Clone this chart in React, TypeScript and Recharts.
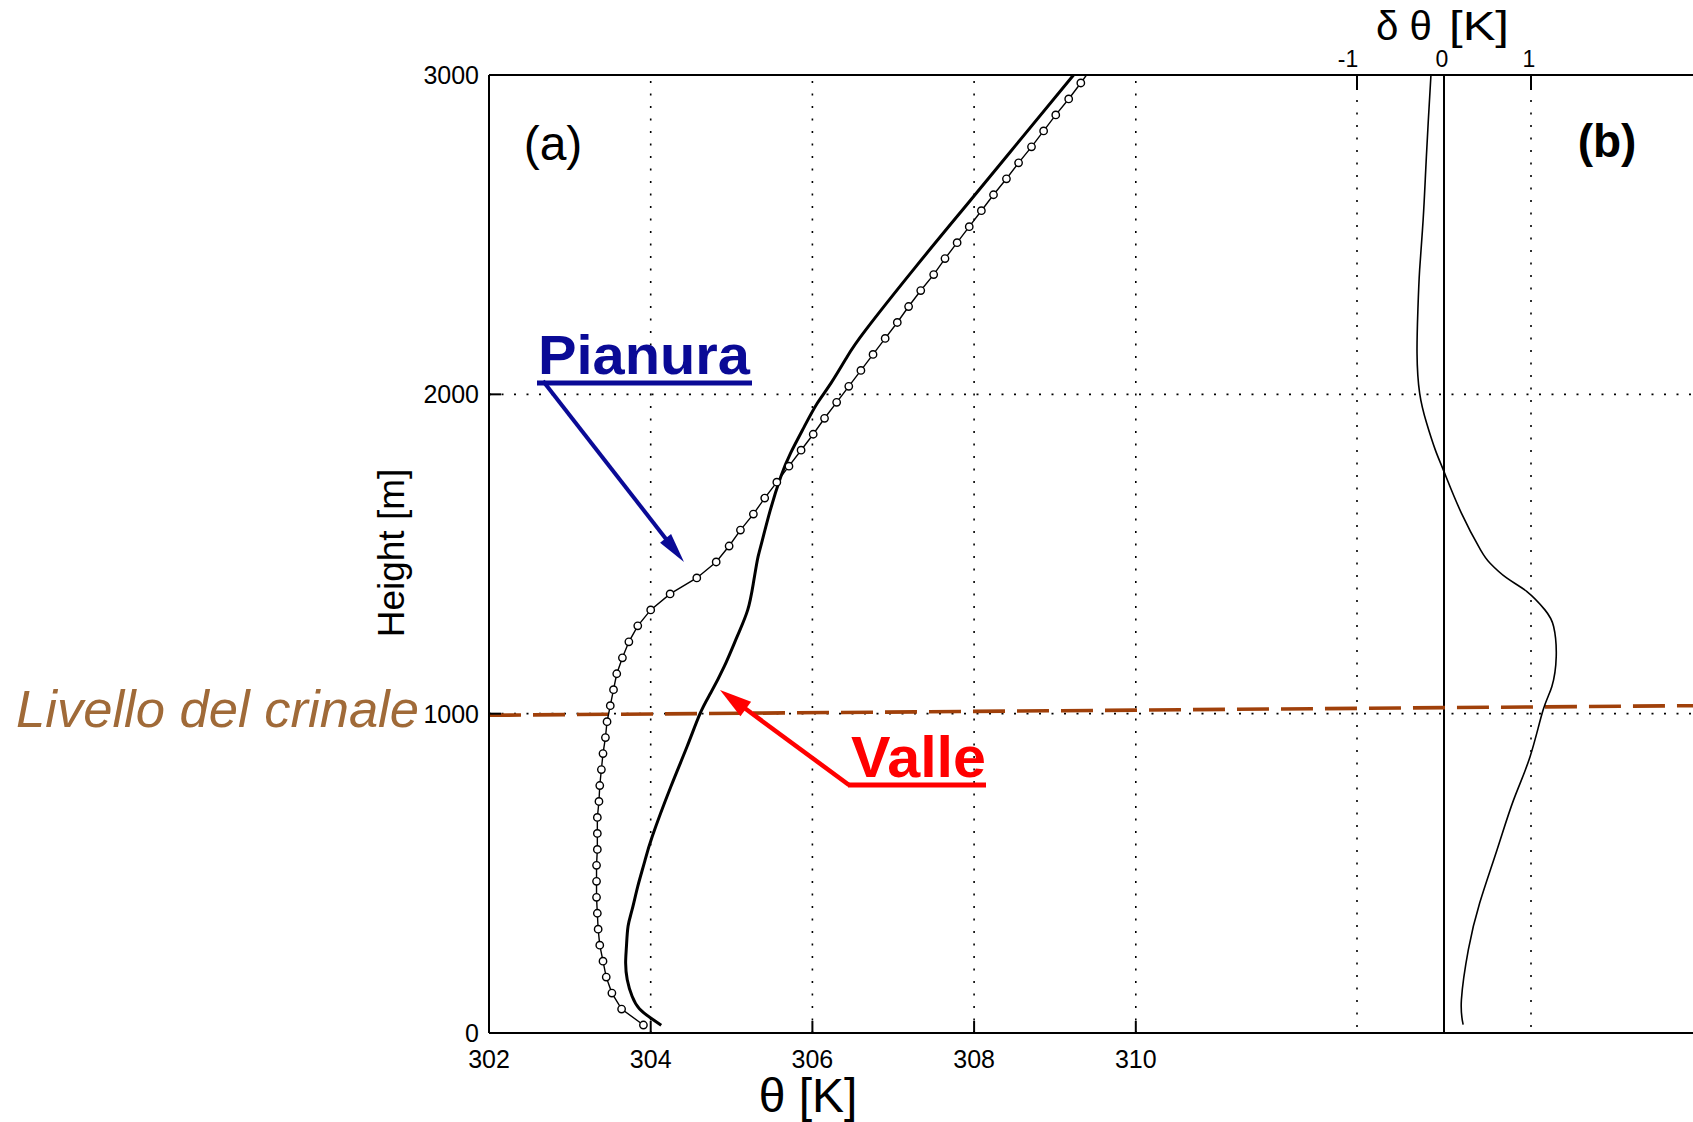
import React from 'react';
import { ComposedChart, Line, XAxis, YAxis, ReferenceLine } from 'recharts';

// ---------- DATA ----------
// Profilo "Pianura" (markers every 50 m)
const pianuraH = [25, 75, 125, 175, 225, 275, 325, 375, 425, 475, 525, 575, 625, 675, 725, 775, 825, 875, 925, 975,
  1025, 1075, 1125, 1175, 1225, 1275, 1325, 1375, 1425, 1475, 1525, 1575, 1625, 1675, 1725, 1775, 1825, 1875, 1925, 1975,
  2025, 2075, 2125, 2175, 2225, 2275, 2325, 2375, 2425, 2475, 2525, 2575, 2625, 2675, 2725, 2775, 2825, 2875, 2925, 2975, 3000];
const pianuraT = [303.91, 303.64, 303.52, 303.45, 303.41, 303.37, 303.35, 303.34, 303.33, 303.33, 303.33, 303.34, 303.34, 303.34, 303.36, 303.37, 303.39, 303.41, 303.44, 303.46,
  303.50, 303.54, 303.58, 303.65, 303.73, 303.84, 304.00, 304.24, 304.57, 304.81, 304.97, 305.11, 305.27, 305.41, 305.56, 305.71, 305.86, 306.01, 306.15, 306.30,
  306.45, 306.60, 306.75, 306.90, 307.05, 307.19, 307.34, 307.50, 307.64, 307.79, 307.94, 308.09, 308.24, 308.40, 308.55, 308.71, 308.86, 309.01, 309.17, 309.32, 309.39];

// Profilo "Valle"
const valleH = [24, 47, 76, 115, 167, 219, 271, 334, 386, 459, 532, 616, 772, 897, 1000, 1064, 1148, 1242, 1325, 1409, 1482,
  1523, 1638, 1743, 1816, 1899, 1972, 2035, 2118, 2202, 2400, 2600, 2800, 3000];
const valleT = [304.13, 304.00, 303.86, 303.77, 303.71, 303.69, 303.70, 303.72, 303.77, 303.84, 303.92, 304.02, 304.25, 304.45, 304.61, 304.74, 304.91, 305.07, 305.20, 305.27, 305.32,
  305.36, 305.48, 305.61, 305.73, 305.90, 306.06, 306.23, 306.43, 306.66, 307.28, 307.93, 308.58, 309.23];

// delta theta_0 (panel b)
const deltaH = [26, 104, 261, 407, 574, 730, 866, 1012, 1085, 1179, 1273, 1325, 1383, 1425, 1471, 1513, 1628, 1758, 1826, 1910,
  2004, 2129, 2265, 2390, 2546, 2703, 2859, 3000];
const deltaD = [0.22, 0.20, 0.28, 0.41, 0.61, 0.80, 0.99, 1.14, 1.24, 1.29, 1.26, 1.16, 0.95, 0.72, 0.53, 0.42, 0.20, 0.00, -0.10, -0.20,
  -0.28, -0.31, -0.30, -0.28, -0.24, -0.21, -0.18, -0.15];

// Livello del crinale (ridge level line, slightly tilted)
const crestH = [995, 1025];

// Ticks
const thetaTicks = [302, 304, 306, 308, 310];
const thetaGrid = [304, 306, 308, 310];
const deltaTicks = [-1, 0, 1];
const deltaGrid = [-1, 1];
const heightTicks = [0, 1000, 2000, 3000];
const heightGrid = [1000, 2000];

// ---------- LAYOUT ----------
const W = 1693;
const H = 1122;
const PLOT = { left: 489, top: 75, right: 1693, bottom: 1033 };
const THETA_PX = 80.85;
const DELTA_PX = 87;
const DELTA_ZERO_X = 1444;
const THETA_MIN = 302;
const THETA_MAX = THETA_MIN + (PLOT.right - PLOT.left) / THETA_PX;
const DELTA_MIN = (PLOT.left - DELTA_ZERO_X) / DELTA_PX;
const DELTA_MAX = (PLOT.right - DELTA_ZERO_X) / DELTA_PX;
const FONT = '"Liberation Sans", Arial, Helvetica, sans-serif';

const pianuraData = pianuraH.map((h, i) => ({ h, t: pianuraT[i] }));
const valleData = valleH.map((h, i) => ({ h, t: valleT[i] }));
const deltaData = deltaH.map((h, i) => ({ h, d: deltaD[i] }));
const crestData = [
  { h: crestH[0], t: THETA_MIN },
  { h: crestH[1], t: THETA_MAX },
];

const GRID_DASH = '2 10.5';

const ThetaTick = (props: any) => {
  const { x, payload } = props;
  return (
    <g>
      <line x1={x} x2={x} y1={PLOT.bottom} y2={PLOT.bottom - 12} stroke="#000" strokeWidth={2} />
      <text x={x} y={1068} textAnchor="middle" fontSize={25} fontFamily={FONT} fill="#000">
        {payload.value}
      </text>
    </g>
  );
};

const DeltaTick = (props: any) => {
  const { x, payload } = props;
  const shift = payload.value < 0 ? -9 : -2;
  return (
    <g>
      <line x1={x} x2={x} y1={PLOT.top} y2={PLOT.top + 15} stroke="#000" strokeWidth={2} />
      <text x={x + shift} y={67} textAnchor="middle" fontSize={23} fontFamily={FONT} fill="#000">
        {payload.value}
      </text>
    </g>
  );
};

const HeightTick = (props: any) => {
  const { y, payload } = props;
  return (
    <g>
      <line x1={PLOT.left} x2={PLOT.left + 12} y1={y} y2={y} stroke="#000" strokeWidth={2} />
      <text x={479} y={y + 9} textAnchor="end" fontSize={25} fontFamily={FONT} fill="#000">
        {payload.value}
      </text>
    </g>
  );
};

const PianuraDot = (props: any) => {
  const { cx, cy, index } = props;
  if (index === pianuraData.length - 1 || cx == null) return <g key={`pd${index}`} />;
  return <circle key={`pd${index}`} cx={cx} cy={cy} r={3.7} fill="#fff" stroke="#000" strokeWidth={1.4} />;
};

const Arrow = ({ x1, y1, x2, y2, color, width, headLen, headW }: any) => {
  const dx = x2 - x1;
  const dy = y2 - y1;
  const len = Math.sqrt(dx * dx + dy * dy);
  const ux = dx / len;
  const uy = dy / len;
  const bx = x2 - ux * headLen;
  const by = y2 - uy * headLen;
  const nx = -uy;
  const ny = ux;
  const pts = `${x2},${y2} ${bx + nx * headW},${by + ny * headW} ${bx - nx * headW},${by - ny * headW}`;
  return (
    <g>
      <line x1={x1} y1={y1} x2={bx + ux * 2} y2={by + uy * 2} stroke={color} strokeWidth={width} />
      <polygon points={pts} fill={color} />
    </g>
  );
};

export default function App() {
  return (
    <div style={{ position: 'absolute', left: 0, top: 0, width: W, height: H, background: '#fff', overflow: 'hidden' }}>
      <ComposedChart
        width={W}
        height={H}
        margin={{ top: 45, right: 0, bottom: 29, left: 429 }}
      >
        <XAxis
          xAxisId="theta"
          dataKey="t"
          type="number"
          orientation="bottom"
          domain={[THETA_MIN, THETA_MAX]}
          allowDataOverflow
          ticks={thetaTicks}
          interval={0}
          height={60}
          tickLine={false}
          axisLine={{ stroke: '#000', strokeWidth: 2 }}
          tick={ThetaTick}
        />
        <XAxis
          xAxisId="delta"
          dataKey="d"
          type="number"
          orientation="top"
          domain={[DELTA_MIN, DELTA_MAX]}
          allowDataOverflow
          ticks={deltaTicks}
          interval={0}
          height={30}
          tickLine={false}
          axisLine={{ stroke: '#000', strokeWidth: 2 }}
          tick={DeltaTick}
        />
        <YAxis
          dataKey="h"
          type="number"
          domain={[0, 3000]}
          allowDataOverflow
          ticks={heightTicks}
          interval={0}
          width={60}
          tickLine={false}
          axisLine={{ stroke: '#000', strokeWidth: 2 }}
          tick={HeightTick}
        />

        {thetaGrid.map((v) => (
          <ReferenceLine key={`tg${v}`} xAxisId="theta" x={v} stroke="#000" strokeWidth={1.6} strokeDasharray={GRID_DASH} />
        ))}
        {deltaGrid.map((v) => (
          <ReferenceLine key={`dg${v}`} xAxisId="delta" x={v} stroke="#000" strokeWidth={1.6} strokeDasharray={GRID_DASH} />
        ))}
        {heightGrid.map((v) => (
          <ReferenceLine key={`hg${v}`} xAxisId="theta" y={v} stroke="#000" strokeWidth={1.6} strokeDasharray={GRID_DASH} />
        ))}
        <ReferenceLine xAxisId="delta" x={0} stroke="#000" strokeWidth={2} />

        <Line
          xAxisId="theta"
          data={crestData}
          dataKey="h"
          type="linear"
          stroke="#A0400A"
          strokeWidth={3.6}
          strokeDasharray="32 12"
          dot={false}
          activeDot={false}
          isAnimationActive={false}
        />
        <Line
          xAxisId="theta"
          data={valleData}
          dataKey="h"
          type="natural"
          stroke="#000"
          strokeWidth={3}
          dot={false}
          activeDot={false}
          isAnimationActive={false}
        />
        <Line
          xAxisId="theta"
          data={pianuraData}
          dataKey="h"
          type="linear"
          stroke="#000"
          strokeWidth={1.4}
          dot={PianuraDot}
          activeDot={false}
          isAnimationActive={false}
        />
        <Line
          xAxisId="delta"
          data={deltaData}
          dataKey="h"
          type="natural"
          stroke="#000"
          strokeWidth={1.6}
          dot={false}
          activeDot={false}
          isAnimationActive={false}
        />
      </ComposedChart>

      <svg
        width={W}
        height={H}
        style={{ position: 'absolute', left: 0, top: 0, pointerEvents: 'none' }}
        fontFamily={FONT}
      >
        <text x={553} y={160} textAnchor="middle" fontSize={48} fill="#000">(a)</text>
        <text x={1607} y={157} textAnchor="middle" fontSize={46} fontWeight="bold" fill="#000">(b)</text>

        <text x={404} y={553} textAnchor="middle" fontSize={37} fill="#000" transform="rotate(-90 404 553)">
          Height [m]
        </text>
        <text x={808} y={1112} textAnchor="middle" fontSize={48} fill="#000">θ [K]</text>

        <text x={1376} y={40} fontSize={40} fill="#000" textLength={56} lengthAdjust="spacingAndGlyphs">δ θ</text>
        <text x={1449} y={40} fontSize={40} fill="#000" textLength={60} lengthAdjust="spacingAndGlyphs">[K]</text>

        <text x={16} y={727} fontSize={52} fontStyle="italic" fill="#A06A38" textLength={403} lengthAdjust="spacingAndGlyphs">
          Livello del crinale
        </text>

        <text x={538} y={374} fontSize={55} fontWeight="bold" fill="#0A0A96" textLength={212} lengthAdjust="spacingAndGlyphs">
          Pianura
        </text>
        <line x1={537} x2={752} y1={383} y2={383} stroke="#0A0A96" strokeWidth={5} />
        <Arrow x1={543} y1={381} x2={684} y2={562} color="#0A0A96" width={4} headLen={30} headW={7} />

        <text x={851} y={777} fontSize={57} fontWeight="bold" fill="#FF0000" textLength={135} lengthAdjust="spacingAndGlyphs">
          Valle
        </text>
        <line x1={848} x2={986} y1={785} y2={785} stroke="#FF0000" strokeWidth={5} />
        <Arrow x1={849} y1={785} x2={720} y2={690} color="#FF0000" width={4.5} headLen={32} headW={9} />
      </svg>
    </div>
  );
}
